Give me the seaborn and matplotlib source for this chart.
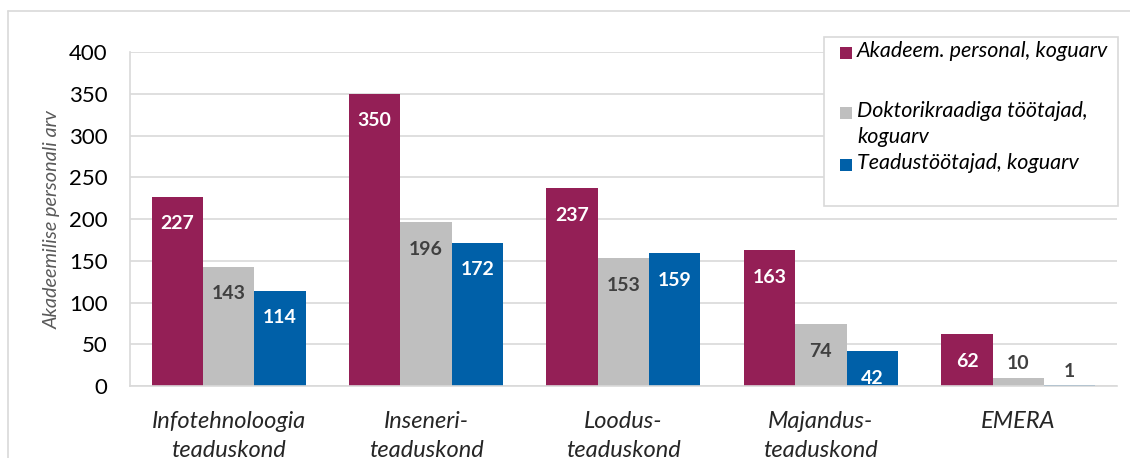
import matplotlib
matplotlib.use("Agg")
import matplotlib.pyplot as plt
from matplotlib.patches import Rectangle
from matplotlib.lines import Line2D
import seaborn as sns
import pandas as pd

faculties = ["Infotehnoloogia\nteaduskond", "Inseneri-\nteaduskond", "Loodus-\nteaduskond",
             "Majandus-\nteaduskond", "EMERA"]
series_names = ["Akadeem. personal, koguarv", "Doktorikraadiga töötajad,\nkoguarv",
                "Teadustöötajad, koguarv"]
academic_total = [227, 350, 237, 163, 62]
phd_holders = [143, 196, 153, 74, 10]
researchers = [114, 172, 159, 42, 1]
y_ticks = [0, 50, 100, 150, 200, 250, 300, 350, 400]

colors = ["#941F56", "#BFBFBF", "#0060A8"]
label_colors = ["white", "#404040", "white"]
grid_color = "#D9D9D9"

rows = []
for name, values in zip(series_names, [academic_total, phd_holders, researchers]):
    for fac, v in zip(faculties, values):
        rows.append({"faculty": fac, "series": name, "value": v})
df = pd.DataFrame(rows)

sns.set_theme(style="white")
plt.rcParams["font.family"] = ["Lato", "DejaVu Sans"]

W, H = 1130, 458
fig = plt.figure(figsize=(W / 100, H / 100), dpi=100)
ax = fig.add_axes([0.115, 0.157, 0.8735, 0.729])

sns.barplot(data=df, x="faculty", y="value", hue="series", order=faculties,
            hue_order=series_names, palette=colors, width=0.78, gap=0,
            saturation=1, edgecolor="none", linewidth=0, legend=False, ax=ax)

ax.set_ylim(0, 400)
ax.set_xlim(-0.5, len(faculties) - 0.5)
ax.set_yticks(y_ticks)
ax.yaxis.grid(True, color=grid_color, linewidth=1.2)
ax.set_axisbelow(True)
for side in ["top", "right"]:
    ax.spines[side].set_visible(False)
for side in ["left", "bottom"]:
    ax.spines[side].set_color(grid_color)
    ax.spines[side].set_linewidth(1.2)
ax.tick_params(axis="y", labelsize=16, colors="black", length=0, pad=16)
ax.tick_params(axis="x", labelsize=17, length=0, pad=18)
for lbl in ax.get_xticklabels():
    lbl.set_fontstyle("italic")
    lbl.set_linespacing(1.45)
ax.set_xlabel("")
ax.set_ylabel("Akadeemilise personali arv", fontsize=14.3, style="italic",
              color="#595959", labelpad=6)

# value labels: inside the bar top, or just above a short bar
for cont, lc, values in zip(ax.containers, label_colors, [academic_total, phd_holders, researchers]):
    for bar, v in zip(cont, values):
        xc = bar.get_x() + bar.get_width() / 2
        if v >= 40:
            ax.annotate(str(v), (xc, v), xytext=(0, -27), textcoords="offset pixels",
                        ha="center", va="center", fontsize=14, fontweight="bold", color=lc)
        else:
            ax.annotate(str(v), (xc, v), xytext=(0, 14), textcoords="offset pixels",
                        ha="center", va="center", fontsize=14, fontweight="bold",
                        color="#404040")


def fx(px):
    return px / W


def fy(py):
    return 1 - py / H


# legend box with square swatches
ax.add_patch(Rectangle((fx(824), fy(206)), fx(1118) - fx(824), fy(37) - fy(206),
                       transform=fig.transFigure, facecolor="white", edgecolor=grid_color,
                       linewidth=1.2, zorder=5, clip_on=False))
entry_y = [53, 113, 165]
for name, col, ey in zip(series_names, colors, entry_y):
    ax.add_patch(Rectangle((fx(840), fy(ey + 6)), fx(12), 12 / H, transform=fig.transFigure,
                           facecolor=col, edgecolor="none", zorder=6, clip_on=False))
    ax.text(fx(857), fy(ey - 12), name, transform=fig.transFigure, ha="left", va="top",
            fontsize=15.5, style="italic", color="black", linespacing=1.4, zorder=6)

# outer chart border (top and left edges)
fig.add_artist(Line2D([fx(8), 1], [fy(11), fy(11)], transform=fig.transFigure,
                      color=grid_color, linewidth=1.2))
fig.add_artist(Line2D([fx(8), fx(8)], [fy(11), 0], transform=fig.transFigure,
                      color=grid_color, linewidth=1.2))

fig.savefig("out.png", dpi=100)
